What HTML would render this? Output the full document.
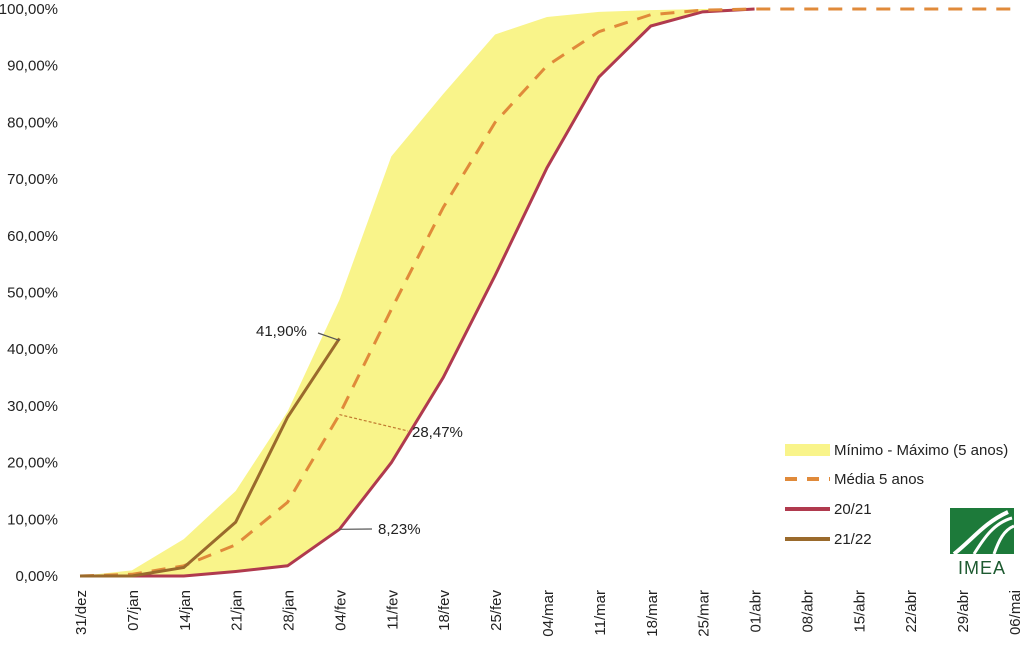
<!DOCTYPE html>
<html><head><meta charset="utf-8"><style>
body{margin:0;background:#fff;}
svg text{font-family:"Liberation Sans",sans-serif;fill:#222;}
</style></head><body>
<svg id="c" width="1024" height="641" xmlns="http://www.w3.org/2000/svg"></svg>
<script>
const categories=["31/dez","07/jan","14/jan","21/jan","28/jan","04/fev","11/fev","18/fev","25/fev","04/mar","11/mar","18/mar","25/mar","01/abr","08/abr","15/abr","22/abr","29/abr","06/mai"];
const maxVals=[0,1,6.5,15,29,48.7,74,85,95.5,98.6,99.5,99.8,100,100];
const minVals=[0,0,0,0.8,1.8,8.23,20,35,53,72,88,97,99.5,100];
const meanVals=[0,0.3,1.8,5.5,13,28.47,47,65,80,90,96,99,99.8,100,100,100,100,100,100];
const v2021=[0,0,0,0.8,1.8,8.23,20,35,53,72,88,97,99.5,100];
const v2122=[0,0,1.5,9.5,28,41.9];
const yTicks=[0,10,20,30,40,50,60,70,80,90,100];
const NS="http://www.w3.org/2000/svg";
const svg=document.getElementById('c');
const x=i=>80+i*(1014-80)/18;
const y=v=>576-v*5.67;
function mk(t,a){const e=document.createElementNS(NS,t);for(const k in a)e.setAttribute(k,a[k]);svg.appendChild(e);return e;}
yTicks.forEach(v=>{const t=mk('text',{x:58,y:y(v)+5,'text-anchor':'end','font-size':15});t.textContent=v.toFixed(2).replace('.',',')+'%';

});
categories.forEach((c,i)=>{const t=mk('text',{transform:`translate(${x(i)+6},${590}) rotate(-90)`,'text-anchor':'end','font-size':15});t.textContent=c;

});
let pts=maxVals.map((v,i)=>x(i)+','+y(v));
for(let i=minVals.length-1;i>=0;i--)pts.push(x(i)+','+y(minVals[i]));
const band=mk('polygon',{points:pts.join(' '),fill:'#f9f48a'});


const line=(arr,a)=>mk('polyline',Object.assign({points:arr.map((v,i)=>x(i)+','+y(v)).join(' '),fill:'none'},a));
const l1=line(v2021,{stroke:'#b03a4e','stroke-width':3});


const l2=line(meanVals,{stroke:'#e08a3a','stroke-width':3,'stroke-dasharray':'14,10'});


const l3=line(v2122,{stroke:'#9a6a2c','stroke-width':3});


function ann(txt,tx,ty,x1,y1,x2,y2,dash){const l=mk('line',{x1,y1,x2,y2,stroke:dash?'#c07a30':'#555','stroke-width':1.2,'stroke-dasharray':dash?'3,2':'none'});


const t=mk('text',{x:tx,y:ty,'font-size':15});t.textContent=txt;

}
ann('41,90%',256,336,318,333,x(5),y(v2122[5])+2,false);
ann('28,47%',412,437,x(5),y(meanVals[5]),408,431,true);
ann('8,23%',378,534,x(5),y(v2021[5]),372,529,false);
const leg=[['Mínimo - Máximo (5 anos)',450],['Média 5 anos',479],['20/21',509],['21/22',539]];
const r=mk('rect',{x:785,y:444,width:45,height:12,fill:'#f9f48a'});
const d=mk('line',{x1:785,y1:479,x2:830,y2:479,stroke:'#e08a3a','stroke-width':4,'stroke-dasharray':'12,10'});
const s1=mk('line',{x1:785,y1:509,x2:830,y2:509,stroke:'#b03a4e','stroke-width':4});
const s2=mk('line',{x1:785,y1:539,x2:830,y2:539,stroke:'#9a6a2c','stroke-width':4});
leg.forEach(([t,yy])=>{const e=mk('text',{x:834,y:yy+5,'font-size':15});e.textContent=t;

});
</script>
<div style="position:absolute;left:944px;top:508px;width:76px;height:70px;">
<svg width="76" height="70"><rect x="6" y="0" width="64" height="46" fill="#1d7a3a"/>
<path d="M10 46 C30 30 40 15 64 4" stroke="#fff" stroke-width="4" fill="none"/>
<path d="M30 46 C40 30 50 15 68 10" stroke="#fff" stroke-width="3" fill="none"/>
<path d="M50 46 C55 32 60 22 70 18" stroke="#fff" stroke-width="3" fill="none"/>
<text x="38" y="66" text-anchor="middle" font-size="18" style="font-family:'Liberation Sans',sans-serif;fill:#1d5a30;letter-spacing:1px">IMEA</text></svg>
</div>
</body></html>
